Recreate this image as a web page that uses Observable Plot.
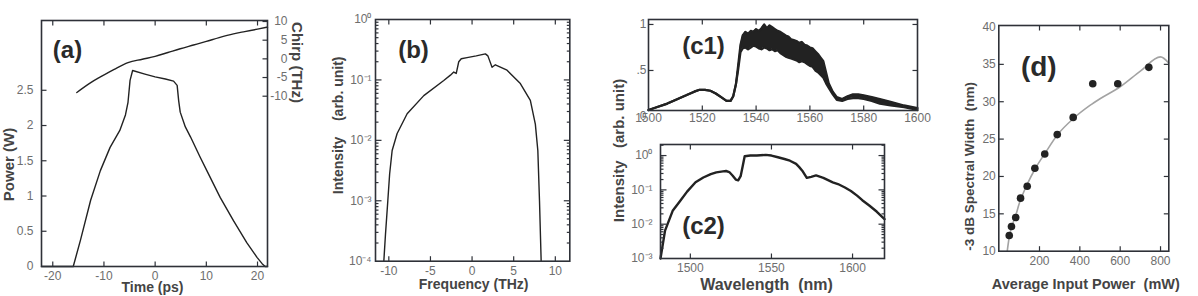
<!DOCTYPE html>
<html><head><meta charset="utf-8">
<script src="https://cdn.jsdelivr.net/npm/d3@7"></script>
<script src="https://cdn.jsdelivr.net/npm/@observablehq/plot@0.6"></script>
<style>
body{margin:0;background:#fff;}
#chart{position:relative;width:1198px;height:296px;overflow:hidden;background:#fff;}
#chart svg{position:absolute;left:0;top:0;font-family:"Liberation Sans",Arial,Helvetica,sans-serif;font-size:12px;color:#6e6e6e;}
</style></head><body><div id="chart"></div>
<script>
// ---------- (a) temporal power and chirp ----------
const aTime  = [-22.2,-16,-14.6,-12.6,-10.7,-8.8,-6.9,-5.8,-5.3,-4.9,-4.4,-2,0,2,3.6,4.3,4.6,4.9,5.9,6.9,8.8,10.1,12.7,15.3,17.9,19.9,20.9,21.5,21.95];
const aPower = [0,0,0.37,0.94,1.36,1.69,1.93,2.15,2.33,2.64,2.78,2.73,2.69,2.66,2.63,2.57,2.35,2.19,1.98,1.84,1.55,1.36,0.98,0.65,0.34,0.13,0.04,0,0];
const aChirpTime = [-15.3,-12.5,-10.7,-8,-5.3,-2.5,0,2.5,4.9,7.5,10,12.5,15.3,17.5,20,21.95];
const aChirp     = [-9.0,-6.3,-4.85,-2.8,-1.0,-0.1,0.67,1.7,2.7,3.7,4.67,5.7,6.7,7.3,7.95,8.5];
const aXTicks = [-20,-10,0,10,20];
const aXLabels = ["-20","-10","0","10","20"];
const aYTicks = [0,0.5,1,1.5,2,2.5];
const aYLabels = ["0","0.5","1","1.5","2","2.5"];
const aChirpTicks = [-10,-5,0,5,10];
const aChirpLabels = ["-10","-5","0","5","10"];
const aTimeDomain = [-22.2,21.95];
const aPowerDomain = [0,3.49];
const aChirpDomain = [-55.6,10.27];

// ---------- (b) spectrum (log) ----------
const bFreq = [-10.6,-10.4,-10.12,-9.9,-9.6,-9.0,-7.8,-5.8,-3.4,-2.6,-2.2,-1.9,-1.6,-1.3,-0.6,0.5,1.6,1.9,2.4,2.8,4.2,5.8,7.0,7.6,7.9,8.1,8.3];
const bInt  = [1e-4,2.8e-4,1e-3,2.8e-3,6.8e-3,1.3e-2,2.75e-2,5.5e-2,9.8e-2,0.12,0.135,0.128,0.2,0.224,0.234,0.25,0.27,0.25,0.162,0.178,0.145,0.087,0.046,0.0186,0.0068,0.001,1e-4];
const bXTicks = [-10,-5,0,5,10];
const bXLabels = ["-10","-5","0","5","10"];
const bYTicks = [1e-4,1e-3,1e-2,1e-1,1];
const bYLabels = ["10\u207B\u2074","10\u207B\u00B3","10\u207B\u00B2","10\u207B\u00B9","10\u2070"];
const bXDomain = [-11.6,11.74];
const bYDomain = [1e-4,1];

// ---------- (c1) measured spectrum, linear ----------
const c1Wl = [1500,1503,1507,1510,1514,1517,1519,1521,1523,1525,1527,1529,1530.5,1531.5,1532.5,1533.3,1534.2,1535,1536,1537,1538,1539,1540,1541,1542,1543,1544,1545,1546,1547,1548,1549,1550,1551,1552,1553,1554,1555,1556,1557,1558,1559,1560,1561,1562,1563,1564,1565,1566,1567,1568.5,1570,1572,1574,1576,1578,1580,1583,1586,1590,1595,1600];
const c1Upper = [0.07,0.10,0.14,0.18,0.23,0.27,0.29,0.29,0.28,0.25,0.21,0.17,0.17,0.22,0.35,0.55,0.78,0.88,0.92,0.90,0.93,0.92,0.95,0.93,0.96,1.00,0.96,0.99,0.97,0.95,0.93,0.92,0.90,0.88,0.87,0.84,0.83,0.82,0.80,0.81,0.78,0.77,0.75,0.74,0.71,0.68,0.64,0.60,0.48,0.36,0.27,0.21,0.19,0.22,0.24,0.24,0.23,0.21,0.19,0.16,0.12,0.09];
const c1Lower = [0.07,0.10,0.14,0.18,0.23,0.27,0.29,0.29,0.28,0.25,0.21,0.17,0.17,0.22,0.35,0.50,0.70,0.74,0.75,0.73,0.75,0.77,0.76,0.74,0.73,0.75,0.74,0.72,0.73,0.71,0.72,0.69,0.67,0.65,0.64,0.63,0.62,0.61,0.59,0.60,0.59,0.57,0.55,0.54,0.50,0.48,0.45,0.42,0.36,0.31,0.24,0.18,0.17,0.19,0.20,0.20,0.19,0.17,0.14,0.12,0.10,0.07];
const c1XTicks = [1500,1520,1540,1560,1580,1600];
const c1XLabels = ["1500","1520","1540","1560","1580","1600"];
const c1YTicks = [0,0.5,1];
const c1YLabels = ["0",".5","1"];
const c1XDomain = [1500,1600];
const c1YDomain = [0.065,1.054];

// ---------- (c2) measured spectrum, log ----------
const c2Wl = [1481.6,1484.4,1489.1,1493.8,1498,1503.2,1508,1512.6,1516,1520.1,1522,1524,1526,1528,1529.5,1531,1532.3,1533.5,1537,1541,1546.5,1550,1554,1558,1561.4,1565.2,1567,1569,1571.8,1574.5,1577.5,1582,1587.8,1591,1595.3,1599,1602.8,1606,1610.3,1615,1619.7];
const c2Int = [0.001,0.0065,0.0245,0.048,0.089,0.166,0.229,0.288,0.324,0.347,0.355,0.331,0.263,0.2,0.19,0.251,0.5,0.955,1.0,1.0,1.047,1.0,0.891,0.794,0.708,0.575,0.468,0.363,0.224,0.24,0.263,0.224,0.166,0.148,0.117,0.093,0.068,0.05,0.035,0.023,0.014];
const c2XTicks = [1500,1550,1600];
const c2XLabels = ["1500","1550","1600"];
const c2YTicks = [1e-3,1e-2,1e-1,1];
const c2YLabels = ["10\u207B\u00B3","10\u207B\u00B2","10\u207B\u00B9","10\u2070"];
const c2XDomain = [1481.6,1619.7];
const c2YDomain = [1e-3,2.1];

// ---------- (d) spectral width vs power ----------
const dPower = [50,61,82,106,139,177,226,288,367,464,588,742];
const dWidth = [12.1,13.3,14.5,17.1,18.7,21.1,23.0,25.6,27.9,32.4,32.4,34.6];
const dCurvePower = [40,50,60,80,100,140,180,230,290,370,450,500,600,700,800,840];
const dCurveWidth = [10,11.9,13.1,14.6,16.4,19.0,21.1,23.2,25.6,27.8,29.5,30.4,32.0,34.1,36.0,35.2];
const dXTicks = [200,400,600,800];
const dXLabels = ["200","400","600","800"];
const dYTicks = [10,15,20,25,30,35,40];
const dYLabels = ["10","15","20","25","30","35","40"];
const dXDomain = [-1.8,841];
const dYDomain = [10,40.2];

// ---------- styling / layout ----------
const W = 1198, H = 296;
const FONT = '"Liberation Sans", Arial, Helvetica, sans-serif';
const INK = "#222", EDGE = "#2e3138", TICKTXT = "#6e6e6e", TITLE = "#444";
const FA  = [41, 267, 20, 266];
const FB  = [375, 569.3, 19, 260.7];
const FC1 = [648, 917, 19, 110];
const FC2 = [660, 884, 144, 258];
const FD  = [998.3, 1168.3, 25, 250.7];

const lookup = (ticks, labels) => d => labels[ticks.indexOf(d)];
const minorLog = (lo, hi) => { const out = []; for (let k = lo; k < hi; k++) for (let m = 2; m <= 9; m++) out.push(m * Math.pow(10, k)); return out; };
const sym = (dx, dy) => ({draw(ctx, size) { const r = Math.sqrt(size / Math.PI); ctx.moveTo(0, 0); ctx.lineTo(dx * r, dy * r); }});
const UP = sym(0, -1), DOWN = sym(0, 1), RIGHT = sym(1, 0), LEFT = sym(-1, 0);
const tickStyle = (len, sw) => ({r: len, fill: "none", stroke: EDGE, strokeWidth: sw});

function inX(vals, yd, len, sw = 1.2) {
  return [Plot.dot(vals, {x: d => d, y: () => yd[0], symbol: UP, ...tickStyle(len, sw)}),
          Plot.dot(vals, {x: d => d, y: () => yd[1], symbol: DOWN, ...tickStyle(len, sw)})];
}
function inY(vals, xd, len, sides = ["left", "right"], sw = 1.2) {
  return sides.map(s => Plot.dot(vals, {y: d => d, x: () => (s === "left" ? xd[0] : xd[1]), symbol: s === "left" ? RIGHT : LEFT, ...tickStyle(len, sw)}));
}
const edge = () => Plot.frame({stroke: EDGE, strokeWidth: 1.6});
function title(t, anchor, dx, dy, size, rotate = 0) {
  return Plot.text([t], {frameAnchor: anchor, dx, dy, rotate, textAnchor: "middle", lineAnchor: "middle", fontSize: size, fontWeight: "bold", fill: TITLE, fontFamily: FONT});
}
function panelLabel(t, dx, dy, size) {
  return Plot.text([t], {frameAnchor: "top-left", dx, dy, textAnchor: "middle", lineAnchor: "middle", fontSize: size, fontWeight: "bold", fill: "#2a2a2a", fontFamily: FONT});
}
const scaleX = (domain, ticks, labels, pad, extra = {}) => ({domain, ticks, tickFormat: lookup(ticks, labels), tickSize: 0, tickPadding: pad, label: null, ...extra});
const scaleY = scaleX;
function make(F, x, y, marks) {
  return Plot.plot({
    width: W, height: H,
    marginLeft: F[0], marginRight: W - F[1], marginTop: F[2], marginBottom: H - F[3],
    x, y,
    style: {background: "transparent", overflow: "visible"},
    marks
  });
}

// (a)
const chirpToP = c => aPowerDomain[0] + (c - aChirpDomain[0]) / (aChirpDomain[1] - aChirpDomain[0]) * (aPowerDomain[1] - aPowerDomain[0]);
const aChirpTickP = aChirpTicks.map(chirpToP);
const pA = make(FA, scaleX(aTimeDomain, aXTicks, aXLabels, 5), scaleY(aPowerDomain, aYTicks, aYLabels, 8), [
  Plot.line(aTime.map((t, i) => ({t, p: aPower[i]})), {x: "t", y: "p", stroke: INK, strokeWidth: 1.4}),
  Plot.line(aChirpTime.map((t, i) => ({t, p: chirpToP(aChirp[i])})), {x: "t", y: "p", stroke: INK, strokeWidth: 1.4, curve: "monotone-x"}),
  ...inX(aXTicks, aPowerDomain, 5),
  ...inY(aYTicks.slice(1), aTimeDomain, 5, ["left"]),
  ...inY(aChirpTickP, aTimeDomain, 5, ["right"]),
  edge(),
  Plot.text(aChirpTicks, {x: () => aTimeDomain[1], y: chirpToP, text: (d, i) => aChirpLabels[i], dx: 20, textAnchor: "end", fill: TICKTXT, fontSize: 12, fontFamily: FONT}),
  title("Time (ps)", "bottom", -2, 21, 14),
  title("Power (W)", "left", -32, 21, 15, -90),
  title("Chirp (THz)", "top-right", 29, 42, 15, 90),
  panelLabel("(a)", 26, 30, 24)
]);

// (b)
const pB = make(FB, scaleX(bXDomain, bXTicks, bXLabels, 5), scaleY(bYDomain, bYTicks, bYLabels, 4, {type: "log"}), [
  Plot.line(bFreq.map((f, i) => ({f, v: bInt[i]})), {x: "f", y: "v", stroke: INK, strokeWidth: 1.4}),
  ...inX(bXTicks, bYDomain, 5),
  ...inY(bYTicks.slice(1, -1), bXDomain, 6),
  ...inY(minorLog(-4, 0), bXDomain, 3),
  edge(),
  title("Frequency (THz)", "bottom", 1, 23, 14),
  title("Intensity\u00A0\u00A0\u00A0\u00A0(arb.\u00A0unit)", "left", -36.5, -15, 14, -90),
  panelLabel("(b)", 38, 31, 24)
]);

// (c1)
const c1Data = c1Wl.map((w, i) => ({w, lo: c1Lower[i], hi: c1Upper[i]}));
const pC1 = make(FC1, scaleX(c1XDomain, c1XTicks, c1XLabels, 3), scaleY(c1YDomain, c1YTicks, c1YLabels, 2), [
  Plot.areaY(c1Data, {x: "w", y1: "lo", y2: "hi", fill: INK}),
  Plot.line(c1Data, {x: "w", y: "hi", stroke: INK, strokeWidth: 2.2}),
  Plot.line(c1Data, {x: "w", y: "lo", stroke: INK, strokeWidth: 2.2}),
  ...inX(c1XTicks.slice(1, -1), c1YDomain, 5),
  ...inY([0.5, 1], c1XDomain, 5),
  edge(),
  panelLabel("(c1)", 55, 27, 24)
]);

// (c2)
const pC2 = make(FC2, scaleX(c2XDomain, c2XTicks, c2XLabels, 5), scaleY(c2YDomain, c2YTicks, c2YLabels, 8, {type: "log"}), [
  Plot.line(c2Wl.map((w, i) => ({w, v: c2Int[i]})), {x: "w", y: "v", stroke: INK, strokeWidth: 2.4}),
  ...inX(c2XTicks, c2YDomain, 5),
  ...inY(c2YTicks.slice(1), c2XDomain, 6),
  ...inY(minorLog(-3, 1).filter(v => v <= 2.1), c2XDomain, 3),
  edge(),
  title("Wavelength\u00A0\u00A0(nm)", "bottom", -6, 26, 16),
  title("Intensity\u00A0\u00A0\u00A0(arb.\u00A0unit)", "top-left", -41, 6, 15, -90),
  panelLabel("(c2)", 43, 82, 24)
]);

// (d)
const pD = make(FD, scaleX(dXDomain, dXTicks, dXLabels, 5), scaleY(dYDomain, dYTicks, dYLabels, 3), [
  Plot.line(dCurvePower.map((p, i) => ({p, w: dCurveWidth[i]})), {x: "p", y: "w", stroke: "#a3a3a3", strokeWidth: 1.6, curve: "monotone-x"}),
  Plot.dot(dPower.map((p, i) => ({p, w: dWidth[i]})), {x: "p", y: "w", r: 3.8, fill: INK, stroke: "none"}),
  ...inX(dXTicks, dYDomain, 5),
  ...inY(dYTicks.slice(1, -1), dXDomain, 5),
  edge(),
  title("Average Input Power\u00A0\u00A0(mW)", "bottom", 2, 33, 14.5),
  title("-3 dB Spectral Width\u00A0\u00A0(nm)", "left", -29, 28, 13.5, -90),
  panelLabel("(d)", 40, 42, 28)
]);

// merge every panel's rendered marks into one SVG
const main = pA;
for (const p of [pB, pC1, pC2, pD]) {
  for (const ch of [...p.children]) if (ch.tagName.toLowerCase() !== "style") main.appendChild(ch);
}
document.getElementById("chart").append(main);
</script></body></html>
